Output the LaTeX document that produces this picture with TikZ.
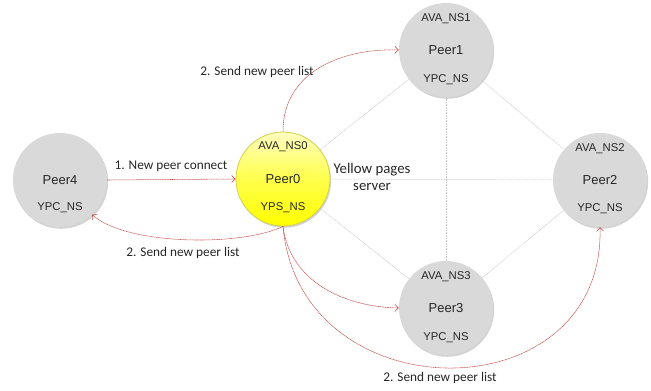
\documentclass[tikz,border=0pt]{standalone}
\usepackage{fontspec}
\setmainfont{Liberation Sans}
\newfontfamily\calfont{Carlito}
\usetikzlibrary{shadows,arrows.meta}
\definecolor{peergray}{HTML}{D9D9D9}
\definecolor{linkgray}{HTML}{C8C8C8}
\definecolor{msgred}{HTML}{C0504D}
\definecolor{ypborder}{HTML}{D2D24A}
\definecolor{txt}{HTML}{262626}
\tikzset{
  peer/.style={circle, minimum size=94pt, inner sep=0pt, fill=peergray,
    font=\fontsize{13}{15}\selectfont, text=txt,
    drop shadow={shadow xshift=1.2pt, shadow yshift=-1.8pt, opacity=0.35, fill=gray}},
  ypeer/.style={peer, draw=ypborder, line width=0.8pt, top color=yellow!25, bottom color=yellow, middle color=yellow!70},
  ns/.style={font=\fontsize{11.3}{13}\selectfont, text=txt, inner sep=0pt},
  lbl/.style={font=\calfont\fontsize{13.3}{15}\selectfont, text=txt, inner sep=0pt},
  link/.style={draw=linkgray, line width=0.5pt, dash pattern=on 1pt off 0.6pt},
  msg/.style={draw=msgred, line width=0.55pt, dash pattern=on 1.2pt off 0.5pt,
    -{Straight Barb[length=3.5pt,width=7pt,line width=0.6pt]}}
}
\begin{document}
\begin{tikzpicture}[x=1pt,y=-1pt]
\useasboundingbox (0,0) rectangle (651,391);
% circles
\node[peer] (p4) at (60,180) {Peer4};
\node[ypeer] (p0) at (283,179) {Peer0};
\node[peer] (p1) at (446,50) {Peer1};
\node[peer] (p2) at (600,180) {Peer2};
\node[peer] (p3) at (446,308) {Peer3};
% inner texts
\node[ns] (p4b) at (60,208) {YPC\_NS};
\node[ns] (p0a) at (283,147) {AVA\_NS0};
\node[ns] (p0b) at (283,208) {YPS\_NS};
\node[ns] (p1a) at (446,19) {AVA\_NS1};
\node[ns] (p1b) at (446,80) {YPC\_NS};
\node[ns] (p2a) at (600,149) {AVA\_NS2};
\node[ns] (p2b) at (600,209) {YPC\_NS};
\node[ns] (p3a) at (446,277) {AVA\_NS3};
\node[ns] (p3b) at (446,338) {YPC\_NS};
% links
\begin{scope}[on background layer/.style={}]
\draw[link] (p0) -- (p1);
\draw[link] (p0) -- (p3);
\draw[link] (p0.east) -- (p2.west);
\draw[link] (p1) -- (p2);
\draw[link] (p1) -- (p3);
\draw[link] (p3) -- (p2);
\end{scope}
% yellow pages text
\node[lbl, font=\calfont\fontsize{14.8}{18}\selectfont, align=center] (yp) at (372,177) {Yellow pages\\[-1pt]server};
% messages
\draw[msg] (p4.east) -- (p0.west);
\draw[msg] (p0.south) .. controls (240,247) and (125,245) .. (p4.-47);
\draw[msg] (p0.north) .. controls (283,70) and (345,48) .. (p1.west);
\draw[msg] (p0.south) .. controls (290,282) and (345,307) .. (p3.west);
\draw[msg] (p0.south) .. controls (300,415) and (605,415) .. (p2.south);
% labels
\node[lbl] (l1) at (171,166) {1. New peer connect};
\node[lbl] (l2) at (183,253) {2. Send new peer list};
\node[lbl] (l3) at (257,72) {2. Send new peer list};
\node[lbl] (l4) at (440,378) {2. Send new peer list};
\end{tikzpicture}
\end{document}
